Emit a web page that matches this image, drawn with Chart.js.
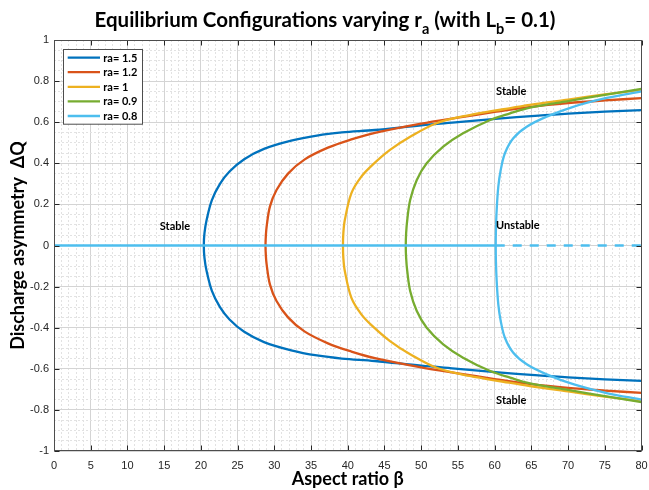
<!DOCTYPE html>
<html>
<head>
<meta charset="utf-8">
<script src="https://cdn.jsdelivr.net/npm/chart.js@4.4.1/dist/chart.umd.min.js"></script>
<style>
  html, body { margin: 0; padding: 0; background: #fff; }
</style>
</head>
<body>
<canvas id="c" width="649" height="490"></canvas>
<script>
// series labels / colours (MATLAB default order)
const raLabels = ['ra= 1.5', 'ra= 1.2', 'ra= 1', 'ra= 0.9', 'ra= 0.8'];
const raColors = ['#0072BD', '#D95319', '#EDB120', '#77AC30', '#4DBEEE'];

// branches: beta, upper dQ, lower dQ
const beta15  = [20.4, 20.49, 20.78, 21.5, 22.6, 23.9, 25.9, 28.6, 32.3, 35.8, 39.2, 43.7, 50, 55, 60.5, 65.5, 70, 75, 80];
const upper15 = [0, 0.06, 0.124, 0.221, 0.3, 0.36, 0.42, 0.47, 0.51, 0.535, 0.55, 0.562, 0.585, 0.6, 0.617, 0.631, 0.642, 0.651, 0.659];
const lower15 = [0, -0.06, -0.124, -0.221, -0.3, -0.36, -0.42, -0.47, -0.51, -0.535, -0.55, -0.562, -0.585, -0.6, -0.617, -0.631, -0.642, -0.651, -0.659];

const beta12  = [28.8, 28.85, 28.95, 29.4, 30.3, 31.9, 34.1, 37.3, 40.5, 43.7, 50, 55, 60, 65, 70, 75, 80];
const upper12 = [0, 0.05, 0.091, 0.189, 0.27, 0.351, 0.418, 0.476, 0.516, 0.548, 0.593, 0.622, 0.65, 0.675, 0.693, 0.706, 0.717];
const lower12 = [0, -0.05, -0.091, -0.189, -0.27, -0.351, -0.418, -0.476, -0.516, -0.548, -0.593, -0.622, -0.65, -0.675, -0.693, -0.706, -0.717];

const beta10  = [39.35, 39.4, 39.6, 40.5, 41.85, 43.3, 45.75, 48.5, 52.1, 56.6, 61.2, 64.8, 70, 75, 80];
const upper10 = [0, 0.06, 0.124, 0.255, 0.335, 0.39, 0.465, 0.529, 0.595, 0.635, 0.663, 0.684, 0.71, 0.735, 0.757];
const lower10 = [0, -0.06, -0.124, -0.255, -0.335, -0.39, -0.465, -0.529, -0.595, -0.635, -0.663, -0.684, -0.71, -0.735, -0.757];

const beta09  = [47.9, 47.95, 48.1, 48.5, 49.4, 50.75, 53, 55.7, 59.4, 62.1, 64.8, 70, 75, 80];
const upper09 = [0, 0.06, 0.124, 0.221, 0.319, 0.4, 0.481, 0.546, 0.611, 0.643, 0.671, 0.703, 0.733, 0.762];
const lower09 = [0, -0.06, -0.124, -0.221, -0.319, -0.4, -0.481, -0.546, -0.611, -0.643, -0.671, -0.703, -0.733, -0.762];

const beta08  = [60.15, 60.18, 60.28, 60.5, 60.83, 61.4, 62.54, 64.37, 67.09, 70.7, 75.26, 80];
const upper08 = [0, 0.08, 0.173, 0.286, 0.367, 0.449, 0.522, 0.578, 0.627, 0.675, 0.718, 0.75];
const lower08 = [0, -0.08, -0.173, -0.286, -0.367, -0.449, -0.522, -0.578, -0.627, -0.675, -0.718, -0.75];

// trivial solution dQ = 0
const zeroSolidBeta = [0, 60.15];
const zeroDashBeta = [60.15, 80];
const zeroQ = [0, 0];

// text annotations
const noteTexts = ['Stable', 'Stable', 'Unstable', 'Stable'];
const noteBeta = [14.4, 60.2, 60.2, 60.2];
const noteQ = [0.095, 0.748, 0.096, -0.755];

const xTickStep = 1, yTickStep = 0.05;

function branchPoints(beta, upper, lower) {
  const pts = [];
  for (let i = beta.length - 1; i >= 0; i--) pts.push({x: beta[i], y: lower[i]});
  for (let i = 1; i < beta.length; i++) pts.push({x: beta[i], y: upper[i]});
  return pts;
}

const branches = [
  branchPoints(beta15, upper15, lower15),
  branchPoints(beta12, upper12, lower12),
  branchPoints(beta10, upper10, lower10),
  branchPoints(beta09, upper09, lower09),
  branchPoints(beta08, upper08, lower08)
];

const datasets = branches.map((pts, i) => ({
  label: raLabels[i],
  data: pts,
  borderColor: raColors[i],
  borderWidth: 2.3,
  pointRadius: 0,
  tension: 0.35,
  order: 5 - i
}));
datasets.push({
  label: 'zero',
  data: zeroSolidBeta.map((b, i) => ({x: b, y: zeroQ[i]})),
  borderColor: raColors[4], borderWidth: 2.3, pointRadius: 0, order: 0
});
datasets.push({
  label: 'zero dashed',
  data: zeroDashBeta.map((b, i) => ({x: b, y: zeroQ[i]})),
  borderColor: raColors[4], borderWidth: 2.3, borderDash: [9, 8], pointRadius: 0, order: 0
});

const isMajorX = v => Math.abs(v / 5 - Math.round(v / 5)) < 1e-6;
const isMajorY = v => Math.abs(v * 5 - Math.round(v * 5)) < 1e-6;

const decor = {
  id: 'decor',
  afterDraw(chart) {
    const {ctx, chartArea: a, scales: {x, y}} = chart;
    ctx.save();
    const L = Math.round(a.left) + 0.5, R = Math.round(a.right) - 0.5;
    const T = Math.round(a.top) + 0.5, B = Math.round(a.bottom) - 0.5;
    // inward ticks
    ctx.strokeStyle = '#262626';
    ctx.lineWidth = 1;
    ctx.beginPath();
    x.ticks.forEach(t => {
      if (!isMajorX(t.value)) return;
      const px = Math.round(x.getPixelForValue(t.value)) + 0.5;
      ctx.moveTo(px, B); ctx.lineTo(px, B - 5);
      ctx.moveTo(px, T); ctx.lineTo(px, T + 5);
    });
    y.ticks.forEach(t => {
      if (!isMajorY(t.value)) return;
      const py = Math.round(y.getPixelForValue(t.value)) + 0.5;
      ctx.moveTo(L, py); ctx.lineTo(L + 5, py);
      ctx.moveTo(R, py); ctx.lineTo(R - 5, py);
    });
    ctx.stroke();
    // box
    ctx.strokeStyle = '#4d4d4d';
    ctx.strokeRect(L, T, R - L, B - T);

    // annotations
    ctx.fillStyle = '#000';
    ctx.font = 'bold 11px Lato';
    ctx.textAlign = 'left';
    ctx.textBaseline = 'middle';
    noteTexts.forEach((s, i) => {
      ctx.fillText(s, x.getPixelForValue(noteBeta[i]), y.getPixelForValue(noteQ[i]));
    });

    // legend box
    const lx = a.left + 9.3, ly = a.top + 9.3, lw = 79, lh = 74.7;
    ctx.fillStyle = '#fff';
    ctx.fillRect(lx, ly, lw, lh);
    ctx.strokeStyle = '#4d4d4d';
    ctx.lineWidth = 1;
    ctx.strokeRect(Math.round(lx) + 0.5, Math.round(ly) + 0.5, lw, lh);
    raLabels.forEach((lab, i) => {
      const ry = ly + 8.3 + 14.6 * i;
      ctx.strokeStyle = raColors[i];
      ctx.lineWidth = 2.3;
      ctx.beginPath();
      ctx.moveTo(lx + 4.4, ry); ctx.lineTo(lx + 36.7, ry);
      ctx.stroke();
      ctx.fillStyle = '#000';
      ctx.font = 'bold 11px Lato';
      ctx.fillText(lab, lx + 40, ry + 0.5);
    });

    // title with subscripts
    const parts = [
      ['Equilibrium Configurations varying r', false],
      ['a', true],
      [' (with L', false],
      ['b', true],
      ['= 0.1)', false]
    ];
    const mainFont = 'bold 20.5px Lato', subFont = 'bold 14.5px Lato';
    let total = 0;
    parts.forEach(p => { ctx.font = p[1] ? subFont : mainFont; total += ctx.measureText(p[0]).width; });
    let cx = 325 - total / 2;
    ctx.textAlign = 'left';
    ctx.textBaseline = 'alphabetic';
    ctx.fillStyle = '#000';
    parts.forEach(p => {
      ctx.font = p[1] ? subFont : mainFont;
      ctx.fillText(p[0], cx, p[1] ? 34 : 27);
      cx += ctx.measureText(p[0]).width;
    });
    ctx.restore();
  }
};

new Chart(document.getElementById('c'), {
  type: 'line',
  data: { datasets: datasets },
  plugins: [decor],
  options: {
    responsive: false,
    animation: false,
    indexAxis: 'y',
    layout: { padding: { top: 40, right: 7.5, bottom: 0, left: 0 } },
    plugins: { legend: { display: false }, tooltip: { enabled: false }, title: { display: false } },
    scales: {
      x: {
        type: 'linear', min: 0, max: 80,
        afterFit: s => { s.height = 39; s.paddingLeft = 0; s.paddingRight = 0; },
        ticks: {
          stepSize: xTickStep, autoSkip: false, maxRotation: 0, padding: 8,
          color: '#262626', font: { family: 'Liberation Sans', size: 11 },
          callback: v => isMajorX(v) ? String(Math.round(v)) : ''
        },
        grid: {
          drawTicks: false,
          color: c => (c.tick && isMajorX(c.tick.value)) ? '#d4d4d4' : '#e2e2e2'
        },
        border: { display: false, dash: c => (c.tick && !isMajorX(c.tick.value)) ? [2, 2] : [] },
        title: {
          display: true, text: 'Aspect ratio β', color: '#000',
          font: { family: 'Lato', size: 18, weight: 'bold' }, padding: { top: 0, bottom: 0 }
        }
      },
      y: {
        type: 'linear', min: -1, max: 1,
        afterFit: s => { s.width = 54; s.paddingTop = 0; s.paddingBottom = 0; },
        ticks: {
          stepSize: yTickStep, autoSkip: false, padding: 5,
          color: '#262626', font: { family: 'Liberation Sans', size: 11 },
          callback: v => isMajorY(v) ? String(Math.round(v * 10) / 10) : ''
        },
        grid: {
          drawTicks: false,
          color: c => (c.tick && isMajorY(c.tick.value)) ? '#d4d4d4' : '#e2e2e2'
        },
        border: { display: false, dash: c => (c.tick && !isMajorY(c.tick.value)) ? [2, 2] : [] },
        title: {
          display: true, text: 'Discharge asymmetry  ΔQ', color: '#000',
          font: { family: 'Lato', size: 18, weight: 'bold' }, padding: { top: 7, bottom: 0 }
        }
      }
    }
  }
});
</script>
</body>
</html>
